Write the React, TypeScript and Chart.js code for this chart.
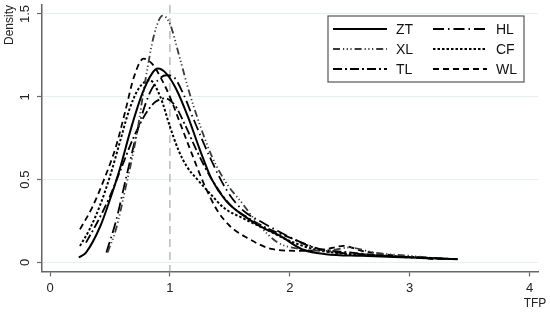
import React, { useEffect, useRef } from "react";
import { Chart, registerables } from "chart.js";

Chart.register(...registerables);

const X_TICKS = [0, 1, 2, 3, 4];
const Y_TICKS = [0, 0.5, 1, 1.5];
const REF_X = 1;

const ZT_X = [0.24, 0.3, 0.42, 0.5, 0.58, 0.68, 0.77, 0.85, 0.9, 0.97, 1.05, 1.15, 1.25, 1.35, 1.47, 1.6, 1.75, 1.92, 2.1, 2.3, 2.6, 3.0, 3.4];
const ZT_Y = [0.03, 0.06, 0.22, 0.38, 0.56, 0.82, 1.02, 1.14, 1.17, 1.14, 1.05, 0.88, 0.68, 0.5, 0.37, 0.29, 0.22, 0.16, 0.08, 0.05, 0.04, 0.03, 0.02];

const XL_X = [0.48, 0.55, 0.63, 0.72, 0.8, 0.87, 0.94, 1.0, 1.08, 1.16, 1.25, 1.35, 1.47, 1.6, 1.75, 1.9, 2.1, 2.3, 2.5, 2.7, 3.0, 3.3];
const XL_Y = [0.06, 0.2, 0.45, 0.76, 1.12, 1.38, 1.49, 1.44, 1.24, 1.03, 0.83, 0.64, 0.48, 0.36, 0.22, 0.12, 0.08, 0.07, 0.09, 0.06, 0.04, 0.02];

const TL_X = [0.3, 0.4, 0.5, 0.6, 0.7, 0.8, 0.88, 0.96, 1.04, 1.12, 1.22, 1.35, 1.5, 1.65, 1.8, 2.0, 2.2, 2.5, 2.8, 3.1, 3.4];
const TL_Y = [0.12, 0.25, 0.4, 0.58, 0.76, 0.9, 0.97, 0.99, 0.95, 0.84, 0.68, 0.5, 0.35, 0.27, 0.21, 0.15, 0.09, 0.06, 0.04, 0.03, 0.02];

const HL_X = [0.47, 0.55, 0.65, 0.75, 0.83, 0.9, 0.97, 1.03, 1.11, 1.2, 1.33, 1.47, 1.6, 1.75, 1.9, 2.1, 2.3, 2.6, 3.0, 3.3];
const HL_Y = [0.06, 0.25, 0.56, 0.85, 1.02, 1.1, 1.13, 1.12, 1.02, 0.86, 0.64, 0.44, 0.32, 0.25, 0.19, 0.12, 0.07, 0.05, 0.03, 0.02];

const CF_X = [0.25, 0.33, 0.42, 0.5, 0.58, 0.66, 0.74, 0.83, 0.92, 1.0, 1.07, 1.14, 1.23, 1.33, 1.45, 1.6, 1.8, 2.0, 2.2, 2.5, 2.8, 3.1, 3.35];
const CF_Y = [0.1, 0.2, 0.35, 0.52, 0.72, 0.92, 1.05, 1.1, 1.0, 0.82, 0.68, 0.58, 0.5, 0.42, 0.33, 0.27, 0.2, 0.13, 0.08, 0.05, 0.04, 0.03, 0.02];

const WL_X = [0.25, 0.35, 0.45, 0.55, 0.63, 0.7, 0.78, 0.85, 0.92, 1.0, 1.08, 1.17, 1.28, 1.39, 1.5, 1.64, 1.86, 2.1, 2.3, 2.45, 2.6, 2.9, 3.2];
const WL_Y = [0.2, 0.33, 0.5, 0.7, 0.92, 1.12, 1.23, 1.2, 1.12, 1.0, 0.85, 0.68, 0.48, 0.32, 0.22, 0.15, 0.08, 0.07, 0.08, 0.1, 0.07, 0.04, 0.02];

const FONT = "'Liberation Sans', Arial, sans-serif";

const pts = (xs: number[], ys: number[]) => xs.map((x, i) => ({ x, y: ys[i] }));

const SERIES = [
  { label: "ZT", xs: ZT_X, ys: ZT_Y, dash: [] as number[], color: "#000", width: 2 },
  { label: "XL", xs: XL_X, ys: XL_Y, dash: [7, 3, 1.2, 2.5, 1.2, 2.5, 1.2, 3], color: "#3a3a3a", width: 1.8 },
  { label: "TL", xs: TL_X, ys: TL_Y, dash: [9, 3, 2, 3], color: "#000", width: 1.8 },
  { label: "HL", xs: HL_X, ys: HL_Y, dash: [11, 4, 1.5, 4], color: "#000", width: 1.8 },
  { label: "CF", xs: CF_X, ys: CF_Y, dash: [2.5, 2], color: "#000", width: 2 },
  { label: "WL", xs: WL_X, ys: WL_Y, dash: [6, 4], color: "#000", width: 1.8 },
];

const decorPlugin = {
  id: "decor",
  beforeDatasetsDraw(chart: any) {
    const { ctx, chartArea, scales } = chart;
    const x = scales.x.getPixelForValue(REF_X);
    ctx.save();
    ctx.strokeStyle = "#a8a8a8";
    ctx.lineWidth = 1.2;
    ctx.setLineDash([8, 5]);
    ctx.beginPath();
    ctx.moveTo(x, chartArea.top);
    ctx.lineTo(x, chartArea.bottom);
    ctx.stroke();
    ctx.restore();
  },
  afterDraw(chart: any) {
    const { ctx, scales } = chart;
    ctx.save();
    ctx.fillStyle = "#222";
    ctx.font = `13px ${FONT}`;
    ctx.textAlign = "center";
    ctx.textBaseline = "middle";
    scales.y.ticks.forEach((t: any) => {
      const py = scales.y.getPixelForValue(t.value);
      ctx.save();
      ctx.translate(25, py);
      ctx.rotate(-Math.PI / 2);
      ctx.fillText(String(t.value), 0, 0);
      ctx.restore();
    });
    ctx.font = `12px ${FONT}`;
    ctx.save();
    ctx.translate(10, 25);
    ctx.rotate(-Math.PI / 2);
    ctx.fillText("Density", 0, 0);
    ctx.restore();
    ctx.font = `12px ${FONT}`;
    ctx.fillText("TFP", 535, 304);

    const bx = 328, by = 16, bw = 196, bh = 66;
    ctx.fillStyle = "#fff";
    ctx.fillRect(bx, by, bw, bh);
    ctx.strokeStyle = "#555";
    ctx.lineWidth = 1.2;
    ctx.setLineDash([]);
    ctx.strokeRect(bx, by, bw, bh);
    const cols = [333, 433];
    const rows = [29, 49, 69];
    ctx.font = `14px ${FONT}`;
    ctx.textAlign = "left";
    chart.data.datasets.forEach((ds: any, i: number) => {
      const c = Math.floor(i / 3);
      const r = i % 3;
      const lx = cols[c];
      const ly = rows[r];
      ctx.save();
      ctx.strokeStyle = ds.borderColor;
      ctx.lineWidth = ds.borderWidth;
      ctx.setLineDash(ds.borderDash || []);
      ctx.beginPath();
      ctx.moveTo(lx, ly);
      ctx.lineTo(lx + 54, ly);
      ctx.stroke();
      ctx.restore();
      ctx.fillStyle = "#111";
      ctx.fillText(ds.label, lx + 63, ly + 1);
    });
    ctx.restore();
  },
};

export default function App() {
  const ref = useRef<HTMLCanvasElement | null>(null);
  useEffect(() => {
    document.body.style.margin = "0";
    const canvas = ref.current!;
    const chart = new Chart(canvas, {
      type: "line",
      data: {
        datasets: SERIES.map((s) => ({
          label: s.label,
          data: pts(s.xs, s.ys),
          borderColor: s.color,
          borderWidth: s.width,
          borderDash: s.dash,
          pointRadius: 0,
          fill: false,
          cubicInterpolationMode: "monotone" as const,
        })),
      },
      options: {
        animation: false,
        responsive: false,
        maintainAspectRatio: false,
        layout: { padding: { left: 37, right: 12, top: 5, bottom: 14 } },
        plugins: { legend: { display: false }, tooltip: { enabled: false } },
        scales: {
          x: {
            type: "linear",
            min: -0.067,
            max: 4.07,
            afterBuildTicks: (axis: any) => {
              axis.ticks = X_TICKS.map((v) => ({ value: v }));
            },
            grid: { drawOnChartArea: false, drawTicks: true, tickLength: 5, tickColor: "#666", tickWidth: 1.2 },
            border: { color: "#666", width: 1.5 },
            ticks: { color: "#222", font: { size: 13, family: FONT }, padding: 4, maxRotation: 0, autoSkip: false },
          },
          y: {
            type: "linear",
            min: -0.054,
            max: 1.554,
            afterBuildTicks: (axis: any) => {
              axis.ticks = Y_TICKS.map((v) => ({ value: v }));
            },
            grid: { color: "#e6eff1", lineWidth: 1, drawTicks: true, tickLength: 5, tickColor: "#666", tickWidth: 1.2 },
            border: { color: "#666", width: 1.5 },
            ticks: { display: false },
          },
        },
      },
      plugins: [decorPlugin],
    });
    return () => chart.destroy();
  }, []);
  return <canvas ref={ref} width={550} height={314} style={{ display: "block" }} />;
}
